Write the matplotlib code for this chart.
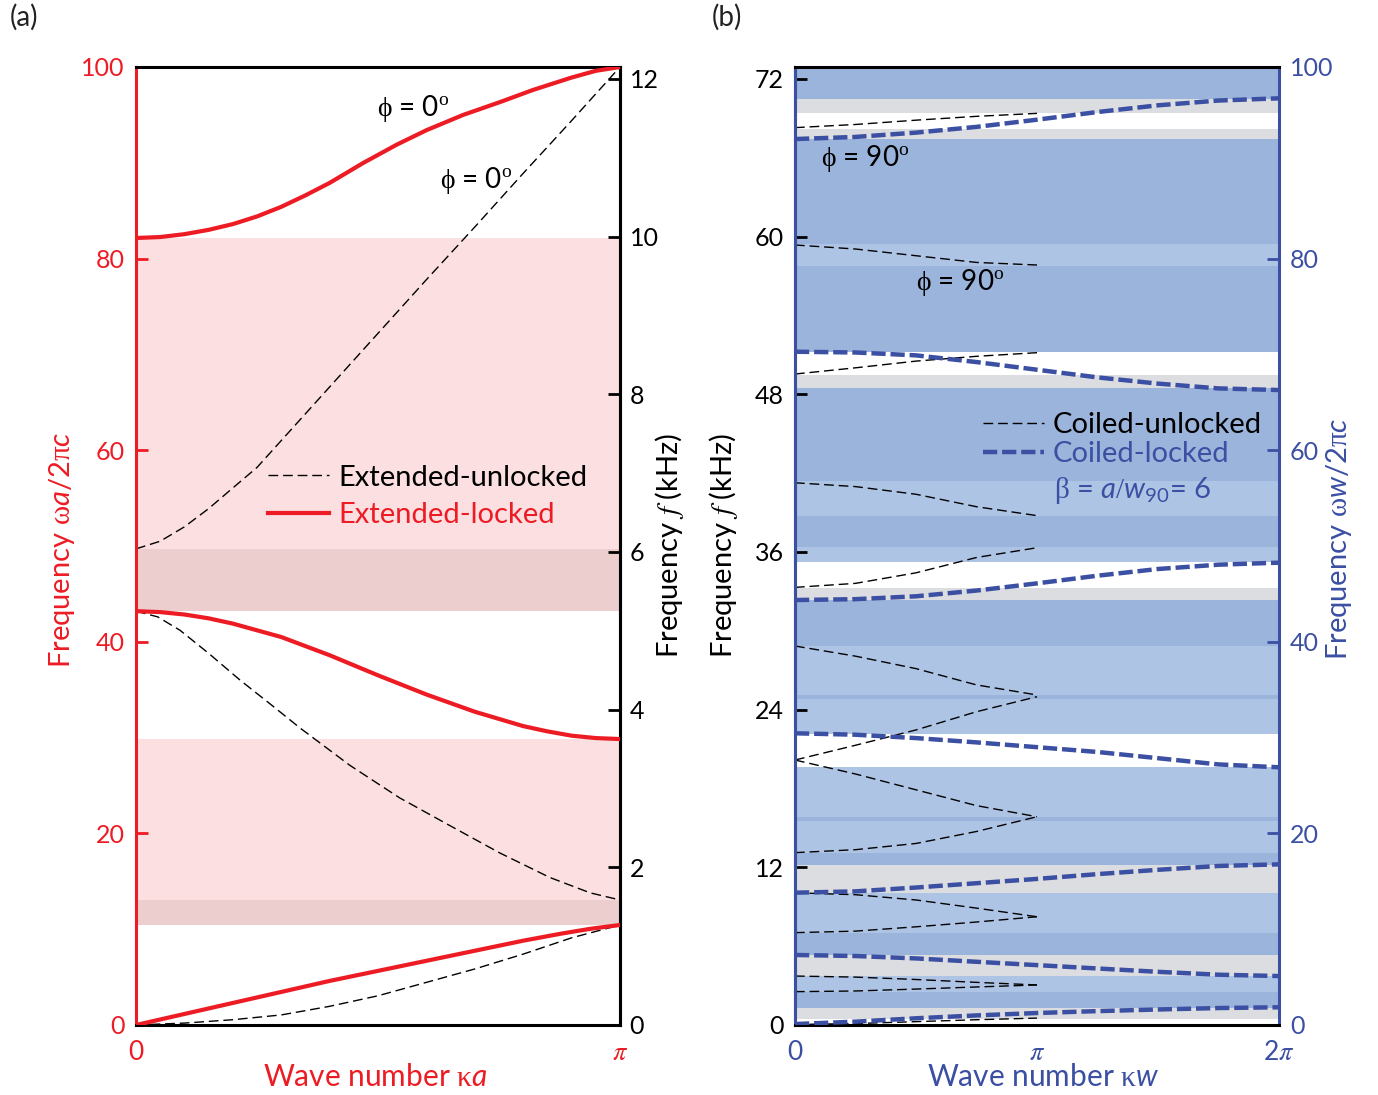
import numpy as np
import matplotlib
matplotlib.use("Agg")
import matplotlib.pyplot as plt
from matplotlib.lines import Line2D

plt.rcParams['font.family'] = ['Lato', 'DejaVu Sans']
plt.rcParams['mathtext.fontset'] = 'custom'
plt.rcParams['mathtext.rm'] = 'Liberation Serif'
plt.rcParams['mathtext.it'] = 'Lato:italic'
plt.rcParams['mathtext.sf'] = 'STIXGeneral:italic'
plt.rcParams['mathtext.bf'] = 'Lato'
plt.rcParams['mathtext.fallback'] = 'stix'

RED = '#ED1C24'
BLUE = '#3B4FA3'
PINK = '#FBDFE1'
PINK_DARK = '#EDCECE'
BLUE_DARK = '#9AB4DB'
BLUE_LIGHT = '#ADC4E4'
GREY = '#DCDDE0'

KHZ_A = 0.1215          # kHz per unit of wa/2pic (extended)
KHZ_B = 6 * KHZ_A       # kHz per unit of ww/2pic (coiled, beta = 6)

# ---- panel (a): extended waveguide, k in units of pi ----
ext_lock1_k = [0, 0.1, 0.2, 0.3, 0.4, 0.5, 0.6, 0.7, 0.8, 0.88, 0.94, 1.0]
ext_lock1_f = [0, 1.15, 2.3, 3.45, 4.6, 5.65, 6.7, 7.75, 8.8, 9.55, 10.05, 10.44]
ext_lock2_k = [0, 0.05, 0.1, 0.15, 0.2, 0.3, 0.4, 0.5, 0.6, 0.7, 0.8, 0.85, 0.9, 0.95, 1.0]
ext_lock2_f = [43.2, 43.1, 42.85, 42.45, 41.9, 40.5, 38.6, 36.5, 34.5, 32.7, 31.2, 30.65, 30.2, 29.95, 29.85]
ext_lock3_k = [0, 0.05, 0.1, 0.15, 0.2, 0.25, 0.3, 0.35, 0.4, 0.47, 0.539, 0.6, 0.676, 0.75,
               0.82, 0.9, 0.95, 1.0]
ext_lock3_f = [82.15, 82.25, 82.55, 83.0, 83.6, 84.4, 85.4, 86.6, 87.9, 90.0, 91.9, 93.4, 95.0,
               96.3, 97.6, 98.9, 99.6, 100]

ext_unl1_k = [0, 0.1, 0.2, 0.3, 0.4, 0.5, 0.6, 0.7, 0.8, 0.9, 1.0]
ext_unl1_f = [0, 0.2, 0.55, 1.05, 1.95, 3.05, 4.45, 5.85, 7.4, 9.1, 10.44]
ext_unl2_k = [0, 0.045, 0.091, 0.15, 0.215, 0.28, 0.339, 0.442, 0.545, 0.649, 0.752, 0.855, 0.938, 1.0]
ext_unl2_f = [43.2, 42.6, 41.2, 38.8, 36.0, 33.4, 31.0, 27.1, 23.7, 20.8, 17.95, 15.4, 13.8, 13.05]
ext_unl3_k = [0, 0.05, 0.1, 0.15, 0.194, 0.25, 0.3, 0.4, 0.5, 0.6, 0.7, 0.8, 0.9, 1.0]
ext_unl3_f = [49.7, 50.5, 52.0, 53.9, 55.8, 58.2, 61.0, 66.6, 72.2, 77.8, 83.3, 88.9, 94.4, 100]

pink_lo = [13.05, 49.7]
pink_hi = [29.85, 82.15]
pink_dark_lo = [10.44, 43.2]
pink_dark_hi = [13.05, 49.7]

# ---- panel (b): coiled waveguide, k in units of pi ----
coil_k = [0, 0.25, 0.5, 0.75, 1.0, 1.25, 1.5, 1.75, 2.0]
coil_lock = [
    [0.1, 0.35, 0.7, 1.0, 1.25, 1.45, 1.62, 1.77, 1.85],
    [7.31, 7.2, 6.95, 6.6, 6.25, 5.9, 5.55, 5.25, 5.11],
    [13.81, 13.95, 14.35, 14.8, 15.25, 15.75, 16.2, 16.6, 16.77],
    [30.45, 30.3, 29.95, 29.5, 29.0, 28.5, 27.85, 27.2, 26.9],
    [44.36, 44.45, 44.75, 45.35, 46.1, 46.9, 47.6, 48.05, 48.26],
    [70.28, 70.2, 69.9, 69.2, 68.4, 67.6, 66.95, 66.45, 66.28],
    [92.48, 92.7, 93.15, 93.75, 94.5, 95.3, 96.0, 96.5, 96.73],
]
unl_k = [0, 0.25, 0.5, 0.75, 1.0]
coil_unl = [
    [0.05, 0.15, 0.35, 0.55, 0.72],
    [5.11, 5.0, 4.75, 4.45, 4.18],
    [3.48, 3.55, 3.75, 3.97, 4.18],
    [13.8, 13.6, 13.05, 12.2, 11.3],
    [9.64, 9.8, 10.25, 10.75, 11.3],
    [17.99, 18.3, 18.95, 20.2, 21.74],
    [27.66, 26.2, 24.55, 22.9, 21.74],
    [27.66, 29.2, 30.8, 32.7, 34.27],
    [39.56, 38.5, 37.2, 35.5, 34.45],
    [45.68, 46.1, 47.2, 48.8, 49.82],
    [56.6, 56.2, 55.4, 54.1, 53.17],
    [67.95, 68.6, 69.3, 69.8, 70.18],
    [81.42, 81.0, 80.3, 79.6, 79.33],
    [93.67, 94.0, 94.45, 94.85, 95.16],
]

dark_lo = [1.77, 7.31, 16.70, 21.29, 34.03, 39.56, 49.90, 56.78, 70.25, 81.52, 96.66]
dark_hi = [3.44, 9.60, 17.95, 21.71, 34.45, 44.36, 53.13, 66.49, 79.23, 92.48, 100]
light_lo = [3.44, 9.60, 17.95, 21.71, 30.38, 34.45, 48.33, 53.13, 79.23]
light_hi = [5.11, 13.78, 21.29, 26.93, 34.03, 39.56, 49.90, 56.78, 81.52]
grey_lo = [0.63, 5.11, 13.78, 44.36, 66.49, 92.48, 95.20]
grey_hi = [1.77, 7.31, 16.70, 45.62, 67.85, 93.53, 96.66]

freq_ticks = [0, 20, 40, 60, 80, 100]
khz_ticks_a = [0, 2, 4, 6, 8, 10, 12]
khz_ticks_b = [0, 12, 24, 36, 48, 60, 72]

PI = r'$\mathsf{\pi}$'
PHI0 = r'$\mathrm{\phi}$ = 0$^{\mathrm{o}}$'
PHI90 = r'$\mathrm{\phi}$ = 90$^{\mathrm{o}}$'

W, H = 1378, 1095
fig = plt.figure(figsize=(W / 100, H / 100), dpi=100)
ax1 = fig.add_axes([136 / W, 70 / H, 484 / W, 958 / H])
ax2 = fig.add_axes([795 / W, 70 / H, 484 / W, 958 / H])

SPW = 2.2
TICK = dict(direction='in', length=8.6, width=2.0, labelsize=18)
dash_thin = (0, (7, 3.5))
dash_thick = (0, (3.2, 1.1))

# ---------------- panel (a) ----------------
for lo, hi in zip(pink_lo, pink_hi):
    ax1.axhspan(lo, hi, color=PINK, lw=0, zorder=0)
for lo, hi in zip(pink_dark_lo, pink_dark_hi):
    ax1.axhspan(lo, hi, color=PINK_DARK, lw=0, zorder=0)

for k, f in [(ext_unl1_k, ext_unl1_f), (ext_unl2_k, ext_unl2_f), (ext_unl3_k, ext_unl3_f)]:
    ax1.plot(k, f, color='black', lw=1.0, ls=dash_thin, zorder=2)
for k, f in [(ext_lock1_k, ext_lock1_f), (ext_lock2_k, ext_lock2_f), (ext_lock3_k, ext_lock3_f)]:
    ax1.plot(k, f, color=RED, lw=3.0, zorder=3, solid_capstyle='butt', solid_joinstyle='round')

ax1.set_xlim(0, 1)
ax1.set_ylim(0, 100)
ax1.set_yticks(freq_ticks)
ax1.tick_params(axis='y', colors=RED, pad=8, **TICK)
ax1.set_xticks([0, 1], ['0', PI])
ax1.tick_params(axis='x', length=0, colors=RED, labelsize=19, pad=11)
for s in ['top', 'bottom', 'right']:
    ax1.spines[s].set_color('black')
    ax1.spines[s].set_linewidth(SPW)
ax1.spines['left'].set_color(RED)
ax1.spines['left'].set_linewidth(SPW)

sec1 = ax1.secondary_yaxis('right', functions=(lambda v: v * KHZ_A, lambda f: f / KHZ_A))
sec1.set_yticks(khz_ticks_a)
sec1.tick_params(axis='y', colors='black', pad=7, **TICK)
sec1.spines['right'].set_linewidth(SPW)

ax1.text(0.572, 95.7, PHI0, fontsize=20, ha='center', va='center')
ax1.text(0.702, 88.2, PHI0, fontsize=20, ha='center', va='center')

h_a = [Line2D([], [], color='black', lw=1.0, ls=dash_thin),
       Line2D([], [], color=RED, lw=3.0)]
ax1.legend(h_a, ['Extended-unlocked', 'Extended-locked'], loc='upper left',
           bbox_to_anchor=(0.273, 0.585), frameon=False, fontsize=21,
           handlelength=2.1, handletextpad=0.3, borderpad=0, borderaxespad=0,
           labelspacing=0.4, labelcolor=['black', RED])

# ---------------- panel (b) ----------------
for lo_l, hi_l, c in [(grey_lo, grey_hi, GREY), (light_lo, light_hi, BLUE_LIGHT),
                      (dark_lo, dark_hi, BLUE_DARK)]:
    for lo, hi in zip(lo_l, hi_l):
        ax2.axhspan(lo, hi, color=c, lw=0, zorder=0)

for f in coil_unl:
    ax2.plot(unl_k, f, color='black', lw=1.0, ls=dash_thin, zorder=2)
for f in coil_lock:
    ax2.plot(coil_k, f, color=BLUE, lw=3.2, ls=dash_thick, zorder=3)

ax2.set_xlim(0, 2)
ax2.set_ylim(0, 100)
ax2.yaxis.tick_right()
ax2.set_yticks(freq_ticks)
ax2.tick_params(axis='y', colors=BLUE, pad=8, **TICK)
ax2.set_xticks([0, 1, 2], ['0', PI, '2' + PI])
ax2.tick_params(axis='x', length=0, colors=BLUE, labelsize=19, pad=11)
for s in ['top', 'bottom']:
    ax2.spines[s].set_color('black')
    ax2.spines[s].set_linewidth(SPW)
for s in ['left', 'right']:
    ax2.spines[s].set_color(BLUE)
    ax2.spines[s].set_linewidth(SPW)

sec2 = ax2.secondary_yaxis('left', functions=(lambda v: v * KHZ_B, lambda f: f / KHZ_B))
sec2.set_yticks(khz_ticks_b)
sec2.tick_params(axis='y', colors='black', pad=8, **TICK)
sec2.spines['left'].set_color(BLUE)
sec2.spines['left'].set_linewidth(SPW)

ax2.text(0.289, 90.5, PHI90, fontsize=20, ha='center', va='center')
ax2.text(0.682, 77.5, PHI90, fontsize=20, ha='center', va='center')

h_b = [Line2D([], [], color='black', lw=1.0, ls=dash_thin),
       Line2D([], [], color=BLUE, lw=3.2, ls=dash_thick)]
ax2.legend(h_b, ['Coiled-unlocked', 'Coiled-locked'],
           loc='upper left', bbox_to_anchor=(0.388, 0.640), frameon=False, fontsize=21,
           handlelength=2.1, handletextpad=0.3, borderpad=0, borderaxespad=0,
           labelspacing=0.1, labelcolor=['black', BLUE])
ax2.text(0.535, 0.558, r'$\mathrm{\beta}$ = $a/w_{\mathbf{90}}$= 6', transform=ax2.transAxes,
         fontsize=21, color=BLUE, ha='left', va='center')

# ---------------- axis labels ----------------
def ftext(x, y, s, size=21, **kw):
    fig.text(x / W, 1 - y / H, s, ha='center', va='center', fontsize=size, **kw)

ftext(62, 550, r'Frequency $\mathrm{\omega}a$/2$\mathrm{\pi}c$', rotation=90, color=RED)
ftext(669, 545, r'Frequency $\mathsf{f}$ (kHz)', rotation=90, color='black')
ftext(375, 1077, r'Wave number $\mathrm{\kappa}a$', size=21.5, color=RED)
ftext(723, 545, r'Frequency $\mathsf{f}$ (kHz)', rotation=90, color='black')
ftext(1339, 539, r'Frequency $\mathrm{\omega}w$/2$\mathrm{\pi}c$', rotation=90, color=BLUE)
ftext(1043, 1077, r'Wave number $\mathrm{\kappa}w$', size=21.5, color=BLUE)
ftext(24, 17, '(a)', size=20, color='#222222')
ftext(727, 17, '(b)', size=20, color='#222222')

fig.savefig('out.png', dpi=100)
